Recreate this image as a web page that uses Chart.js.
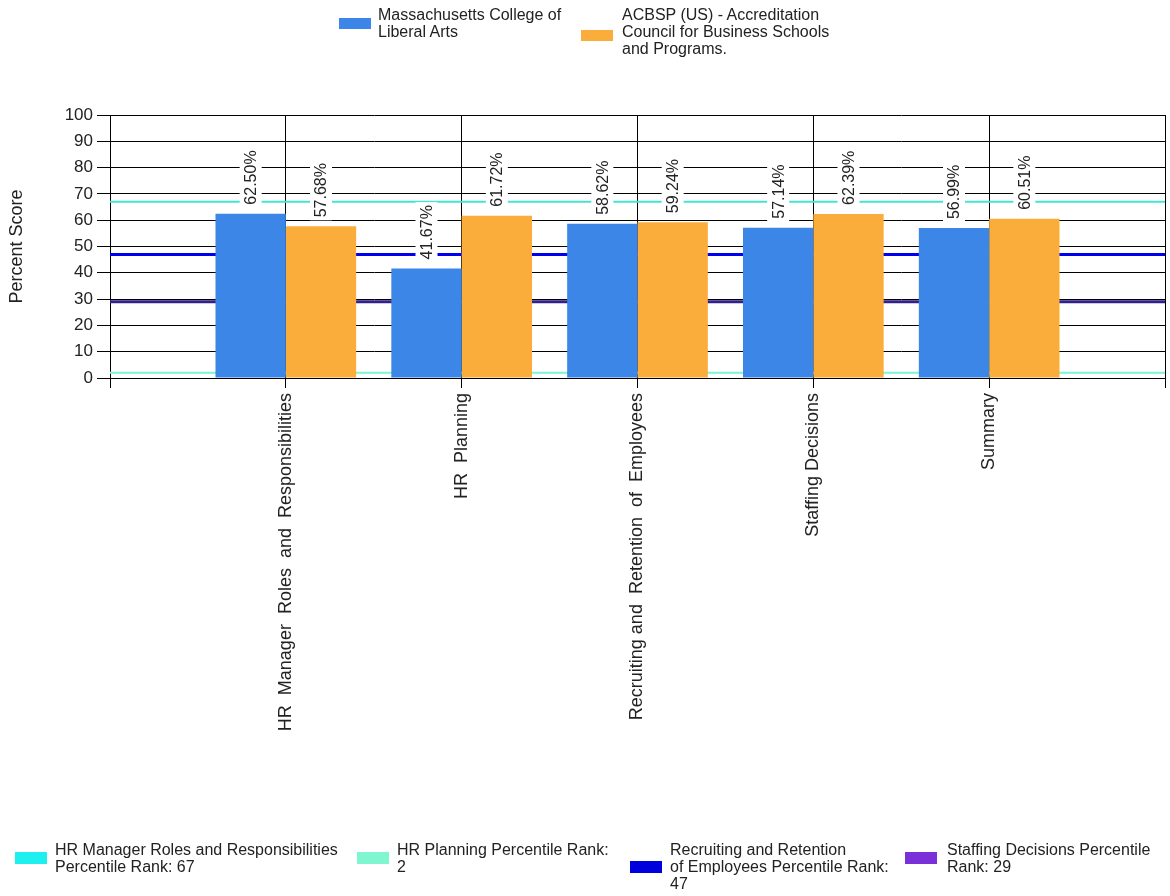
<!DOCTYPE html>
<html>
<head>
<meta charset="utf-8">
<script src="https://cdn.jsdelivr.net/npm/chart.js@4"></script>
<style>
  html, body { margin: 0; padding: 0; background: #fff; }
  #wrap { position: relative; width: 1170px; height: 896px; font-family: "Liberation Sans", Arial, sans-serif; font-size: 16px; color: #222; }
  #chart { position: absolute; left: 0; top: 0; }
  .txt { position: absolute; line-height: 17px; white-space: nowrap; }
  .box { position: absolute; width: 32px; height: 11px; }
</style>
</head>
<body>
<div id="wrap">
  <canvas id="chart" width="1170" height="896"></canvas>

  <!-- top legend (bar series) -->
  <div class="box" style="left:339px; top:18px; background:#3B86E6"></div>
  <div class="txt" style="left:378px; top:6px">Massachusetts College of<br>Liberal Arts</div>
  <div class="box" style="left:581px; top:30px; background:#FBAD3B"></div>
  <div class="txt" style="left:622px; top:6px">ACBSP (US) - Accreditation<br>Council for Business Schools<br>and Programs.</div>

  <!-- bottom legend (percentile lines) -->
  <div class="box" style="left:15px; top:852px; height:12px; background:#1EF0F0"></div>
  <div class="txt" style="left:55px; top:841px">HR Manager Roles and Responsibilities<br>Percentile Rank: 67</div>
  <div class="box" style="left:357px; top:852px; height:12px; background:#7FF5D0"></div>
  <div class="txt" style="left:397px; top:841px">HR Planning Percentile Rank:<br>2</div>
  <div class="box" style="left:630px; top:861px; height:12px; background:#0000DD"></div>
  <div class="txt" style="left:670px; top:841px">Recruiting and Retention<br>of Employees Percentile Rank:<br>47</div>
  <div class="box" style="left:905px; top:852px; height:12px; background:#7B2FD9"></div>
  <div class="txt" style="left:947px; top:841px">Staffing Decisions Percentile<br>Rank: 29</div>
</div>

<script>
// data
const categories = ["", "HR  Manager  Roles  and  Responsibilities", "HR  Planning",
  "Recruiting and  Retention  of  Employees", "Staffing Decisions", "Summary", ""];
const collegeScores = [null, 62.50, 41.67, 58.62, 57.14, 56.99, null];
const acbspScores = [null, 57.68, 61.72, 59.24, 62.39, 60.51, null];
const yTicks = [0, 10, 20, 30, 40, 50, 60, 70, 80, 90, 100];

const rankNames = ["HR Manager Roles and Responsibilities Percentile Rank",
  "HR Planning Percentile Rank", "Recruiting and Retention of Employees Percentile Rank",
  "Staffing Decisions Percentile Rank"];
const percentileRanks = [67, 2, 47, 29];
const rankColors = ["#45E2D6", "#78F5D2", "#0000F0", "#35208A"];
const rankWidths = [2, 2, 3, 3];

// reference lines, one flat line per rank across the whole axis
const rankSets = percentileRanks.map((rank, i) => ({
  type: "line",
  label: rankNames[i],
  data: categories.map(() => rank),
  borderColor: rankColors[i],
  borderWidth: rankWidths[i],
  pointRadius: 0,
  fill: false,
  order: 2
}));

// value labels written upwards above every bar, on a white patch
const valueLabels = {
  id: "valueLabels",
  afterDatasetsDraw(chart) {
    const ctx = chart.ctx;
    ctx.save();
    ctx.font = '16px "Liberation Sans", Arial, sans-serif';
    ctx.textBaseline = "middle";
    ctx.textAlign = "left";
    chart.data.datasets.forEach((ds, di) => {
      if (ds.type !== "bar") return;
      chart.getDatasetMeta(di).data.forEach((bar, i) => {
        const v = ds.data[i];
        if (v == null) return;
        const text = v.toFixed(2) + "%";
        const w = ctx.measureText(text).width;
        ctx.save();
        ctx.translate(bar.x, bar.y - 9);
        ctx.rotate(-Math.PI / 2);
        ctx.fillStyle = "#fff";
        ctx.fillRect(-3, -11, w + 6, 22);
        ctx.fillStyle = "#222";
        ctx.fillText(text, 0, 1);
        ctx.restore();
      });
    });
    ctx.restore();
  }
};

const ctx = document.getElementById("chart").getContext("2d");

new Chart(ctx, {
  type: "bar",
  data: {
    labels: categories,
    datasets: [
      { type: "bar", label: "Massachusetts College of Liberal Arts", data: collegeScores,
        backgroundColor: "#3B86E6", order: 1 },
      { type: "bar", label: "ACBSP (US) - Accreditation Council for Business Schools and Programs.",
        data: acbspScores, backgroundColor: "#FBAD3B", order: 1 },
      ...rankSets
    ]
  },
  options: {
    responsive: false,
    animation: false,
    layout: { padding: { top: 115, right: 5, left: 0, bottom: 0 } },
    datasets: { bar: { barPercentage: 1, categoryPercentage: 0.8 } },
    plugins: {
      legend: { display: false },
      tooltip: { enabled: false }
    },
    scales: {
      x: {
        offset: false,
        grid: { offset: false, color: "#000", lineWidth: 1, tickLength: 10 },
        border: { color: "#000" },
        ticks: {
          autoSkip: false, maxRotation: 90, minRotation: 90, padding: 5,
          color: "#222", font: { family: '"Liberation Sans", Arial, sans-serif', size: 18 }
        },
        afterFit(scale) {
          scale.height = 518;
          scale.paddingLeft = 0;
          scale.paddingRight = 0;
        }
      },
      y: {
        min: 0, max: 100,
        afterBuildTicks(scale) { scale.ticks = yTicks.map(v => ({ value: v })); },
        grid: { color: "#000", lineWidth: 1, tickLength: 13 },
        border: { color: "#000" },
        ticks: {
          padding: 4, color: "#222",
          font: { family: '"Liberation Sans", Arial, sans-serif', size: 17 }
        },
        title: {
          display: true, text: "Percent Score", color: "#222",
          font: { family: '"Liberation Sans", Arial, sans-serif', size: 18 },
          padding: { top: 6, bottom: 0 }
        },
        afterFit(scale) { scale.width = 110; }
      }
    }
  },
  plugins: [valueLabels]
});
</script>
</body>
</html>
